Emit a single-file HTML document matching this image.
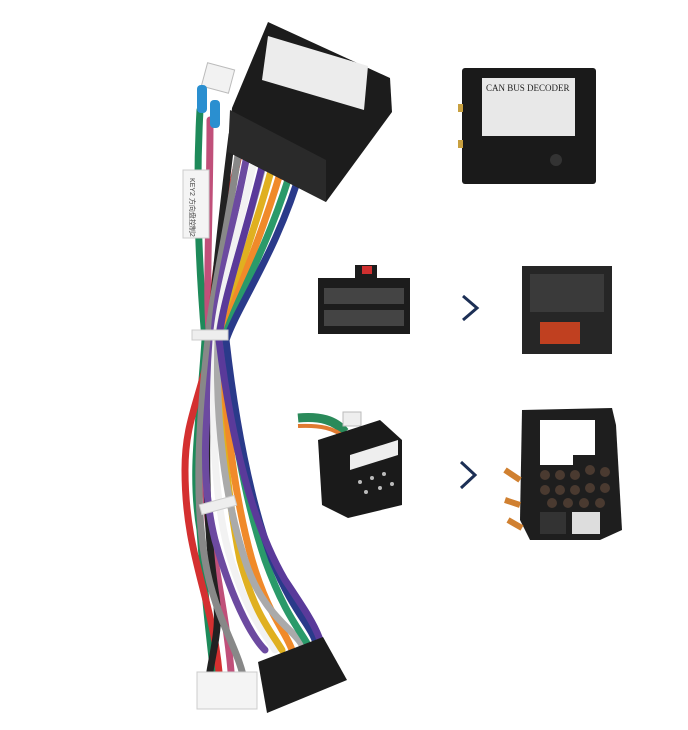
<!DOCTYPE html>
<html><head><style>
html,body{margin:0;padding:0;background:#fff;}
svg{display:block;}
</style></head><body>
<svg width="688" height="730" viewBox="0 0 688 730" xmlns="http://www.w3.org/2000/svg">
<rect width="688" height="730" fill="#fff"/>
<!-- wires -->
<g fill="none" stroke-linecap="round" stroke-width="7">
<path d="M200,110 C195,200 200,280 205,340 C200,420 190,470 200,530 C205,600 210,640 215,685" stroke="#1e8a5a"/>
<path d="M210,120 C210,220 205,300 210,340 C205,430 200,500 215,560 C225,620 230,650 232,685" stroke="#c0507a"/>
<path d="M240,150 C225,220 210,280 212,340 C200,400 185,420 185,470 C185,560 215,600 220,685" stroke="#d43030"/>
<path d="M232,135 C222,215 214,290 210,340 C205,430 205,520 215,590 C222,630 212,650 208,685" stroke="#222"/>
<path d="M240,140 C230,220 212,290 208,340 C198,430 195,500 205,560 C215,620 240,650 245,685" stroke="#888"/>
<path d="M250,140 C235,220 215,290 214,340 C205,420 200,480 215,540 C235,610 255,640 265,650" stroke="#6c4aa0"/>
<path d="M258,142 C240,230 220,290 216,340 C210,420 215,500 228,550 C245,610 262,630 275,650" stroke="#f2f2f2"/>
<path d="M276,152 C255,235 228,295 220,340 C220,420 228,500 240,560 C255,615 270,630 282,650" stroke="#e0b020"/>
<path d="M285,156 C262,240 232,300 222,340 C225,420 235,500 252,560 C268,615 285,630 292,650" stroke="#f08a2a"/>
<path d="M268,146 C248,230 225,290 218,340 C215,420 225,500 245,560 C262,615 295,630 302,645" stroke="#aaa"/>
<path d="M294,160 C270,245 235,300 224,340 C230,420 245,500 265,560 C285,615 300,630 308,645" stroke="#2a9a6a"/>
<path d="M302,166 C278,250 238,305 226,340 C235,420 250,500 272,560 C292,610 310,625 315,640" stroke="#2a3a8a"/>
<path d="M266,150 C245,240 222,300 219,340 C230,430 250,520 285,580 C305,610 315,625 320,640" stroke="#5a3a9a"/>
</g>
<!-- blue terminals & white plug top -->
<rect x="204" y="66" width="28" height="24" fill="#f2f2f2" stroke="#bbb" transform="rotate(15 218 78)"/>
<rect x="197" y="85" width="10" height="28" rx="4" fill="#2a8fd0"/>
<rect x="210" y="100" width="10" height="28" rx="4" fill="#2a8fd0"/>
<!-- label sleeve -->
<rect x="183" y="170" width="26" height="68" fill="#f4f4f4" stroke="#ccc"/>
<text x="190" y="178" font-family="Liberation Sans, Noto Sans CJK SC, sans-serif" font-size="7" fill="#444" transform="rotate(90 190 178)">KEY2 方向盘控制2</text>
<!-- ties -->
<rect x="192" y="330" width="36" height="10" fill="#eee" stroke="#ccc"/>
<rect x="200" y="500" width="36" height="10" fill="#eee" stroke="#ccc" transform="rotate(-15 218 505)"/>
<!-- top connector -->
<polygon points="268,22 390,78 392,112 326,202 228,152 232,108" fill="#1c1c1c"/>
<polygon points="230,110 326,160 326,202 228,152" fill="#2a2a2a"/>
<polygon points="268,36 368,66 364,110 262,80" fill="#ececec"/>
<!-- bottom connectors -->
<rect x="197" y="672" width="60" height="37" fill="#f4f4f4" stroke="#ccc"/>
<polygon points="258,662 323,637 347,680 267,713" fill="#1c1c1c"/>
<!-- CAN BUS decoder -->
<rect x="462" y="68" width="134" height="116" rx="3" fill="#1a1a1a"/>
<rect x="458" y="104" width="5" height="8" fill="#c8a040"/>
<rect x="458" y="140" width="5" height="8" fill="#c8a040"/>
<rect x="482" y="78" width="93" height="58" fill="#e8e8e8"/>
<text x="486" y="91" font-family="Liberation Serif, serif" font-size="9" fill="#222">CAN BUS DECODER</text>
<circle cx="556" cy="160" r="6" fill="#333"/>
<!-- row 2 -->
<rect x="318" y="278" width="92" height="56" fill="#1c1c1c"/>
<rect x="355" y="265" width="22" height="15" fill="#1c1c1c"/>
<rect x="362" y="266" width="10" height="8" fill="#d03030"/>
<g fill="#444"><rect x="324" y="288" width="80" height="16"/><rect x="324" y="310" width="80" height="16"/></g>
<polyline points="463,296 477,308 463,320" fill="none" stroke="#1c2f55" stroke-width="3"/>
<rect x="522" y="266" width="90" height="88" fill="#262626"/>
<rect x="530" y="274" width="74" height="38" fill="#3a3a3a"/>
<rect x="540" y="322" width="40" height="22" fill="#c04020"/>
<!-- row 3 -->
<path d="M298,418 C320,416 335,420 345,432" stroke="#2a8a5a" stroke-width="9" fill="none"/>
<path d="M298,426 C320,425 335,428 345,438" stroke="#e07a30" stroke-width="4" fill="none"/>
<rect x="343" y="412" width="18" height="14" fill="#eee" stroke="#bbb"/>
<polygon points="318,440 380,420 402,440 402,505 348,518 322,505" fill="#1a1a1a"/>
<polygon points="350,455 398,440 398,455 350,470" fill="#eee"/>
<g fill="#bbb"><circle cx="360" cy="482" r="2"/><circle cx="372" cy="478" r="2"/><circle cx="384" cy="474" r="2"/><circle cx="366" cy="492" r="2"/><circle cx="380" cy="488" r="2"/><circle cx="392" cy="484" r="2"/></g>
<polyline points="461,462 475,475 461,488" fill="none" stroke="#1c2f55" stroke-width="3"/>
<polygon points="522,410 612,408 616,425 622,530 600,540 530,540 520,520" fill="#1e1e1e"/>
<polygon points="540,420 595,420 595,455 573,455 573,465 540,465" fill="#fff"/>
<g fill="#4a3a30">
<circle cx="545" cy="475" r="5"/><circle cx="560" cy="475" r="5"/><circle cx="575" cy="475" r="5"/><circle cx="590" cy="470" r="5"/><circle cx="605" cy="472" r="5"/>
<circle cx="545" cy="490" r="5"/><circle cx="560" cy="490" r="5"/><circle cx="575" cy="490" r="5"/><circle cx="590" cy="488" r="5"/><circle cx="605" cy="488" r="5"/>
<circle cx="552" cy="503" r="5"/><circle cx="568" cy="503" r="5"/><circle cx="584" cy="503" r="5"/><circle cx="600" cy="503" r="5"/>
</g>
<rect x="572" y="512" width="28" height="22" fill="#ddd"/>
<rect x="540" y="512" width="26" height="22" fill="#333"/>
<path d="M505,470 L520,480 M505,500 L520,505 M508,520 L522,528" stroke="#d08030" stroke-width="6"/>
</svg>
</body></html>
